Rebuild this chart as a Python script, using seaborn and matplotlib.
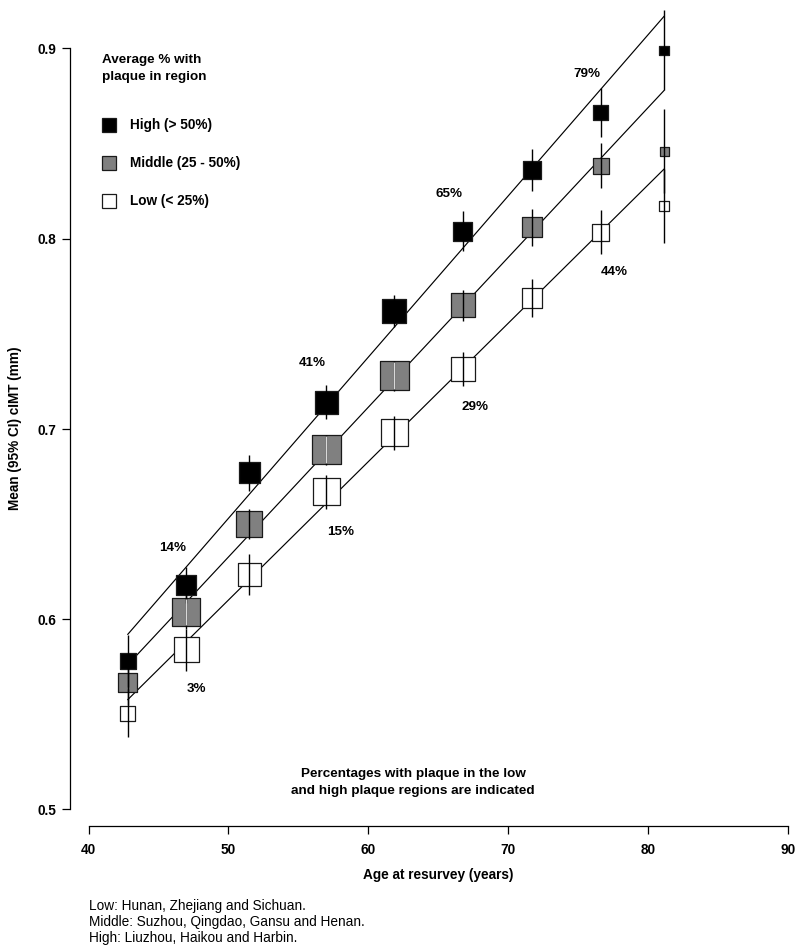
import matplotlib
matplotlib.use("Agg")
import matplotlib.pyplot as plt
from matplotlib import font_manager
import numpy as np
import pandas as pd
import seaborn as sns

# ---------------- data ----------------
ages = [42.8, 47.0, 51.5, 57.0, 61.85, 66.75, 71.7, 76.6, 81.15]
groups = ["High", "Middle", "Low"]
legend_labels = ["High (> 50%)", "Middle (25 - 50%)", "Low (< 25%)"]

high_mean = [0.578, 0.618, 0.677, 0.714, 0.762, 0.804, 0.836, 0.8665, 0.899]
high_ci = [0.0137, 0.0096, 0.0095, 0.009, 0.0085, 0.0105, 0.011, 0.013, 0.021]
mid_mean = [0.567, 0.604, 0.650, 0.689, 0.728, 0.765, 0.806, 0.8385, 0.846]
mid_ci = [0.012, 0.009, 0.008, 0.008, 0.008, 0.008, 0.0097, 0.012, 0.022]
low_mean = [0.5505, 0.584, 0.6235, 0.667, 0.698, 0.7315, 0.769, 0.8035, 0.817]
low_ci = [0.0126, 0.011, 0.011, 0.009, 0.009, 0.009, 0.010, 0.0115, 0.0194]

# relative box weights (box side)
high_w = [16, 20, 21, 23, 24, 19, 18, 15, 9.5]
mid_w = [19, 28, 26, 29, 29, 24, 20, 16, 9]
low_w = [15, 25, 23, 27, 27, 24, 20, 17, 10]

# fitted lines (value at first and last age)
fit_age = [42.8, 81.15]
high_fit = [0.592, 0.917]
mid_fit = [0.576, 0.878]
low_fit = [0.5577, 0.8367]

pct_high = ["14%", "41%", "65%", "79%"]
pct_low = ["3%", "15%", "29%", "44%"]

footnotes = ["Low: Hunan, Zhejiang and Sichuan.",
             "Middle: Suzhou, Qingdao, Gansu and Henan.",
             "High: Liuzhou, Haikou and Harbin."]

# ---------------- style ----------------
sns.set_theme(style="ticks")
names = {f.name for f in font_manager.fontManager.ttflist}
NARROW = "Liberation Sans Narrow" in names
plt.rcParams["font.family"] = ["Liberation Sans", "DejaVu Sans"]
plt.rcParams["text.color"] = "black"
plt.rcParams["axes.labelcolor"] = "black"
plt.rcParams["xtick.color"] = "black"
plt.rcParams["ytick.color"] = "black"
plt.rcParams["axes.edgecolor"] = "black"
narrow_fam = ["Liberation Sans Narrow", "Liberation Sans"] if NARROW else ["Liberation Sans"]
nscale = 1.0 if NARROW else 0.82

W, H = 800, 948
fig = plt.figure(figsize=(W / 100, H / 100), dpi=100)

def fx(px):
    return px / W

def fy(py):
    return 1 - py / H

ax_l, ax_r, ax_b, ax_t = 70, 800, 826, 2
ax = fig.add_axes([fx(ax_l), fy(ax_b), (ax_r - ax_l) / W, (ax_b - ax_t) / H])
ppx = 13.99      # px per year
ppy = 1902.5     # px per unit y
ax.set_xlim(40 + (ax_l - 88.5) / ppx, 40 + (ax_r - 88.5) / ppx)
ax.set_ylim(0.5 - (ax_b - 809.5) / ppy, 0.9 + (48.5 - ax_t) / ppy)
ax.set_facecolor("white")

series = [
    ("High", high_mean, high_ci, high_w, high_fit, "black"),
    ("Middle", mid_mean, mid_ci, mid_w, mid_fit, "#808080"),
    ("Low", low_mean, low_ci, low_w, low_fit, "white"),
]
mid_light = [0, 1, 0, 1, 1, 0, 0, 0, 0]

for name, means, cis, ws, fit, fc in series:
    sns.lineplot(x=fit_age, y=fit, ax=ax, color="black", lw=0.85, zorder=2)
    df = pd.DataFrame({"age": ages, "mean": means})
    sns.scatterplot(data=df, x="age", y="mean", ax=ax, marker="s",
                    s=(np.array(ws) * 0.72) ** 2, color=fc,
                    edgecolor="#1a1a1a", linewidth=0.9, zorder=3, legend=False)
    lo = np.array(means) - np.array(cis)
    hi = np.array(means) + np.array(cis)
    ax.vlines(ages, lo, hi, color="black", lw=1.0, zorder=4)
    if name == "Middle":
        for a, m, w, lt in zip(ages, means, ws, mid_light):
            if lt:
                h = (w / 2 - 1) / ppy
                ax.vlines([a], [m - h], [m + h], color="#d8d8d8", lw=1.0, zorder=5)

for lab, (x, y) in zip(pct_high, [(46.0, 0.6376), (56.0, 0.7346), (65.74, 0.8236), (75.6, 0.8867)]):
    ax.text(x, y, lab, ha="center", va="center", fontsize=9.6, fontweight="bold")
for lab, (x, y) in zip(pct_low, [(47.7, 0.5634), (58.0, 0.6461), (67.65, 0.7114), (77.56, 0.7824)]):
    ax.text(x, y, lab, ha="center", va="center", fontsize=9.6, fontweight="bold")

# axes styling
for s in ["top", "right"]:
    ax.spines[s].set_visible(False)
ax.spines["left"].set_bounds(0.5, 0.9)
ax.spines["bottom"].set_bounds(40, 90)
for s in ["left", "bottom"]:
    ax.spines[s].set_color("black")
    ax.spines[s].set_linewidth(0.9)
ax.set_xticks([40, 50, 60, 70, 80, 90])
ax.set_yticks([0.5, 0.6, 0.7, 0.8, 0.9])
ax.set_yticklabels(["0.5", "0.6", "0.7", "0.8", "0.9"])
ax.tick_params(axis="both", direction="out", length=6, width=0.9, color="black",
               labelcolor="black")
ax.tick_params(axis="x", pad=6)
ax.tick_params(axis="y", pad=4)
for t in ax.get_xticklabels() + ax.get_yticklabels():
    t.set_fontfamily(narrow_fam)
    t.set_fontweight("bold")
    t.set_fontsize(12 * nscale)
ax.set_xlabel("")
ax.set_ylabel("")

fig.text(fx(438), fy(875), "Age at resurvey (years)", ha="center", va="center",
         family=narrow_fam, fontweight="bold", fontsize=12 * nscale)
fig.text(fx(15), fy(428), "Mean (95% CI) cIMT (mm)", ha="center", va="center",
         rotation=90, family=narrow_fam, fontweight="bold", fontsize=12 * nscale)

# legend
fig.text(fx(102), fy(60), "Average % with", ha="left", va="center",
         fontsize=9.7, fontweight="bold")
fig.text(fx(102), fy(77), "plaque in region", ha="left", va="center",
         fontsize=9.7, fontweight="bold")
leg_colors = ["black", "#808080", "white"]
for lab, c, py in zip(legend_labels, leg_colors, [124.5, 162.5, 200.5]):
    ax.plot([fx(109)], [fy(py)], marker="s", ms=14 * 0.72, mfc=c, mec="#1a1a1a",
            mew=0.9, transform=fig.transFigure, clip_on=False, zorder=6)
    fig.text(fx(130), fy(py), lab, ha="left", va="center", fontsize=9.8, fontweight="bold")

fig.text(fx(413), fy(774), "Percentages with plaque in the low",
         ha="center", va="center", fontsize=9.7, fontweight="bold")
fig.text(fx(413), fy(791), "and high plaque regions are indicated",
         ha="center", va="center", fontsize=9.7, fontweight="bold")

for txt, py in zip(footnotes, [906, 922, 938]):
    fig.text(fx(89), fy(py), txt, ha="left", va="center", family=narrow_fam,
             fontsize=12 * nscale)

fig.savefig("out.png", dpi=100, facecolor="white")
